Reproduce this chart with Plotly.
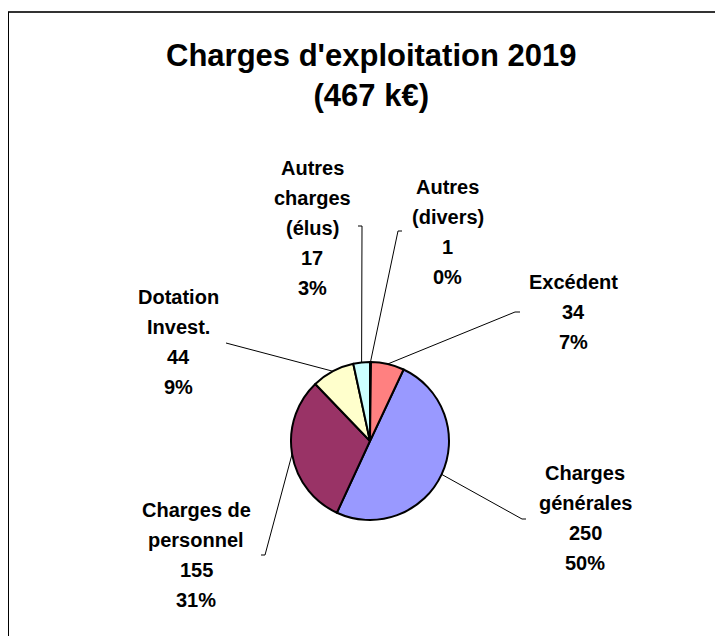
import math
import plotly.graph_objects as go

# données (k€)
postes = ["Charges\ngénérales", "Charges de\npersonnel", "Dotation\nInvest.",
          "Autres\ncharges\n(élus)", "Autres\n(divers)", "Excédent"]
montants = [250, 155, 44, 17, 1, 34]
couleurs = ["#9999FF", "#993366", "#FFFFCC", "#CCFFFF", "#660066", "#FF8080"]

OFF = 8                      # marge par défaut du <body>
W, H = 723 - 2 * OFF, 644 - 2 * OFF
cx, cy, r = 370, 441, 79     # centre / rayon du camembert (pixels de la page)
FONT = "Liberation Sans, Arial, sans-serif"

# position du libellé (centre, 1re ligne) et fin du trait de rappel (x, y, x du petit crochet)
lab_xy = [(585, 473), (196, 510), (178, 297), (312, 168), (448, 187), (573, 282)]
rappel = [(522, 519, 526), (265, 555, 261), (226, 343, 226),
          (362, 226, 358), (398, 231, 402), (515, 312, 520)]


def px(x, y):
    return (x - OFF) / W, 1 - (y - OFF) / H


total = sum(montants)
charges = total - montants[-1]
rotation = 360 * (montants[4] + montants[5]) / total

x0, y0 = px(cx - r, cy + r)
x1, y1 = px(cx + r, cy - r)
fig = go.Figure(go.Pie(
    labels=[p.replace("\n", " ") for p in postes],
    values=montants,
    sort=False,
    direction="clockwise",
    rotation=rotation,
    textinfo="none",
    marker=dict(colors=couleurs, line=dict(color="black", width=2)),
    domain=dict(x=[x0, x1], y=[y0, y1]),
))

annots = []
shapes = []
cum = 0
for i, (nom, v) in enumerate(zip(postes, montants)):
    mid = math.radians(rotation + 360 * (cum + v / 2) / total)
    cum += v
    sx, sy = cx + r * math.sin(mid), cy - r * math.cos(mid)
    ex, ey, tx = rappel[i]
    a0, b0 = px(sx, sy)
    a1, b1 = px(ex, ey)
    a2, _ = px(tx, ey)
    shapes.append(dict(type="path", xref="paper", yref="paper",
                       path=f"M {a0} {b0} L {a1} {b1} L {a2} {b1}",
                       line=dict(color="black", width=1)))
    lignes = nom.split("\n") + [str(v), f"{round(100 * v / total)}%"]
    lx, ly = lab_xy[i]
    for k, t in enumerate(lignes):
        x, y = px(lx, ly + 30 * k)
        annots.append(dict(x=x, y=y, xref="paper", yref="paper", text=t,
                           showarrow=False, xanchor="center", yanchor="middle",
                           font=dict(family=FONT, size=20, color="black", weight="bold")))

# titre
tx_, ty_ = px(371, 76)
annots.append(dict(x=tx_, y=ty_, xref="paper", yref="paper",
                   text=f"Charges d'exploitation 2019<br>({charges} k€)",
                   showarrow=False, xanchor="center", yanchor="middle",
                   font=dict(family=FONT, size=31, color="black", weight="bold")))

# cadre (haut et gauche seulement, le reste est rogné)
_, ytop = px(0, 12)
shapes.append(dict(type="line", xref="paper", yref="paper", x0=0, x1=1, y0=ytop, y1=ytop,
                   line=dict(color="#333333", width=2)))
shapes.append(dict(type="line", xref="paper", yref="paper", x0=0, x1=0, y0=0, y1=ytop,
                   line=dict(color="black", width=2)))

fig.update_layout(
    width=W, height=H,
    margin=dict(l=0, r=0, t=0, b=0),
    paper_bgcolor="white", plot_bgcolor="white",
    showlegend=False,
    annotations=annots,
    shapes=shapes,
)

fig.write_html("out.html")
